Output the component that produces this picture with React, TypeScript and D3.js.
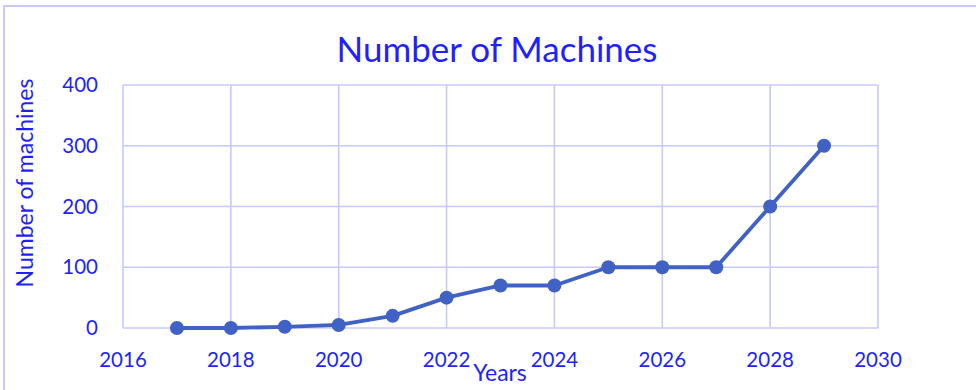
import React from "react";
import * as d3 from "d3";

// Machine counts per year
const years = [2017, 2018, 2019, 2020, 2021, 2022, 2023, 2024, 2025, 2026, 2027, 2028, 2029];
const machines = [0, 0, 2, 5, 20, 50, 70, 70, 100, 100, 100, 200, 300];
const xTicks = [2016, 2018, 2020, 2022, 2024, 2026, 2028, 2030];
const yTicks = [0, 100, 200, 300, 400];

const W = 976;
const H = 390;
const FONT = "Lato, 'Noto Sans', sans-serif";
const TEXT = "#1f1fff";
const GRID = "#c8c8ff";
const LINE = "#4062c4";

export default function App() {
  const x = d3.scaleLinear().domain([2016, 2030]).range([123, 878]);
  const y = d3.scaleLinear().domain([0, 400]).range([328, 85]);
  const pts = years.map((yr, i) => [yr, machines[i]] as [number, number]);
  const line = d3
    .line<[number, number]>()
    .x((d) => x(d[0]))
    .y((d) => y(d[1]));

  return (
    <svg
      width={W}
      height={H}
      viewBox={`0 0 ${W} ${H}`}
      style={{ position: "absolute", left: 0, top: 0, display: "block", background: "#fff" }}
    >
      {/* chart frame */}
      <rect x={4} y={6} width={1000} height={500} fill="none" stroke={GRID} strokeWidth={2} />

      <text x={497} y={62} textAnchor="middle" fontFamily={FONT} fontSize={35} fill={TEXT}>
        Number of Machines
      </text>

      {/* grid */}
      {yTicks.map((t) => (
        <line key={`h${t}`} x1={x(2016)} x2={x(2030)} y1={y(t)} y2={y(t)} stroke={GRID} strokeWidth={1.6} />
      ))}
      {xTicks.map((t) => (
        <line key={`v${t}`} x1={x(t)} x2={x(t)} y1={y(0)} y2={y(400)} stroke={GRID} strokeWidth={1.6} />
      ))}

      {/* y tick labels */}
      {yTicks.map((t) => (
        <text key={`yl${t}`} x={98} y={y(t) + 7} textAnchor="end" fontFamily={FONT} fontSize={20.5} fill={TEXT}>
          {t}
        </text>
      ))}
      {/* x tick labels */}
      {xTicks.map((t) => (
        <text key={`xl${t}`} x={x(t)} y={367} textAnchor="middle" fontFamily={FONT} fontSize={20.5} fill={TEXT}>
          {t}
        </text>
      ))}

      <text x={500} y={381} textAnchor="middle" fontFamily={FONT} fontSize={23} fill={TEXT}>
        Years
      </text>
      <text
        transform={`translate(33,183) rotate(-90)`}
        textAnchor="middle"
        fontFamily={FONT}
        fontSize={23}
        fill={TEXT}
      >
        Number of machines
      </text>

      {/* series */}
      <path d={line(pts) ?? ""} fill="none" stroke={LINE} strokeWidth={3.8} strokeLinejoin="round" />
      {pts.map((d) => (
        <circle key={d[0]} cx={x(d[0])} cy={y(d[1])} r={7} fill={LINE} />
      ))}
    </svg>
  );
}
